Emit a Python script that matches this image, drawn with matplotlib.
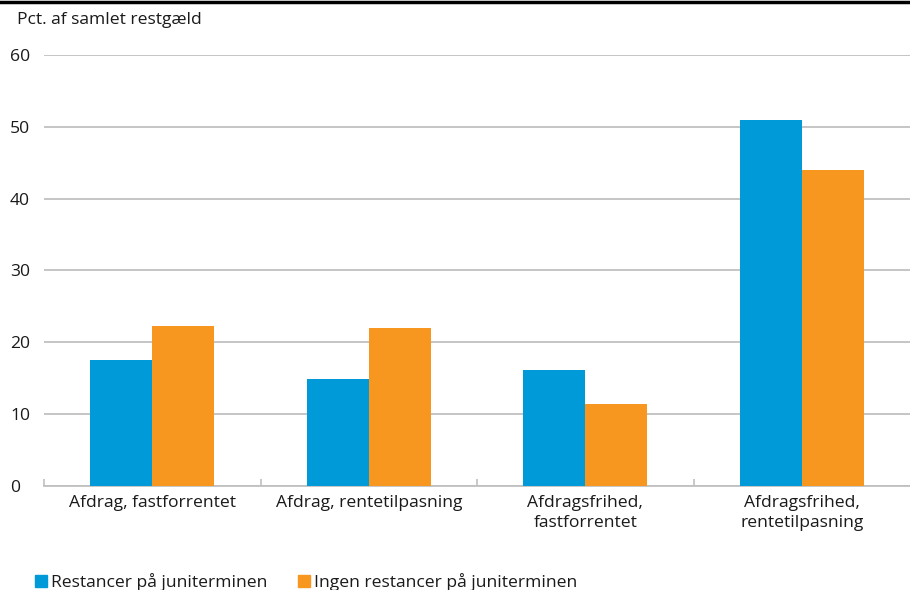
import numpy as np
import matplotlib.pyplot as plt
from matplotlib.lines import Line2D
from matplotlib.patches import Patch

plt.rcParams['font.family'] = ['Open Sans', 'DejaVu Sans']

categories = ['Afdrag, fastforrentet', 'Afdrag, rentetilpasning',
              'Afdragsfrihed,\nfastforrentet', 'Afdragsfrihed,\nrentetilpasning']
restancer = [17.6, 14.9, 16.2, 51.0]
ingen = [22.3, 22.0, 11.4, 44.0]
series_names = ['Restancer på juniterminen', 'Ingen restancer på juniterminen']
yticks = [0, 10, 20, 30, 40, 50, 60]

blue = '#009ad8'
orange = '#f7971f'
grid_col = '#c0c0c0'
text_col = '#1a1a1a'
fs = 12.6

fig = plt.figure(figsize=(9.1, 5.9), dpi=100)
ax = fig.add_axes([0.0484, 0.1763, 0.9516, 0.7305])

x = np.arange(len(categories))
w = 0.286
ax.bar(x - w / 2, restancer, width=w, color=blue, zorder=3)
ax.bar(x + w / 2, ingen, width=w, color=orange, zorder=3)

ax.set_xlim(-0.5, len(categories) - 0.5)
ax.set_ylim(0, 60)
ax.set_yticks(yticks)
ax.set_yticklabels([str(v) for v in yticks], fontsize=fs, color=text_col, ha='left')
ax.tick_params(axis='y', length=0, pad=24.5)
ax.yaxis.grid(True, color=grid_col, linewidth=1.3, zorder=0)

ax.set_xticks(x)
ax.set_xticklabels(categories, fontsize=fs, color=text_col, linespacing=1.3)
ax.tick_params(axis='x', length=0, pad=6.5)
ax.set_xticks(np.arange(len(categories)) - 0.5, minor=True)
ax.tick_params(axis='x', which='minor', direction='in', length=5, color=grid_col, width=1.2)

for s in ['top', 'right', 'left']:
    ax.spines[s].set_visible(False)
ax.spines['bottom'].set_color(grid_col)
ax.spines['bottom'].set_linewidth(1.3)

# top rule and unit label
fig.add_artist(Line2D([0, 1], [0.9966, 0.9966], color='black', linewidth=2.5,
                      transform=fig.transFigure))
fig.text(17 / 910, 1 - 20 / 590, 'Pct. af samlet restgæld', fontsize=fs,
         color=text_col, va='center', ha='left')

handles = [Patch(color=blue), Patch(color=orange)]
fig.legend(handles, series_names, loc='lower left', bbox_to_anchor=(0.021, -0.028),
           ncol=2, frameon=False, fontsize=fs, handlelength=0.7, handleheight=0.7,
           handletextpad=0.25, columnspacing=1.7, labelcolor=text_col)

fig.savefig('out.png', dpi=100)
